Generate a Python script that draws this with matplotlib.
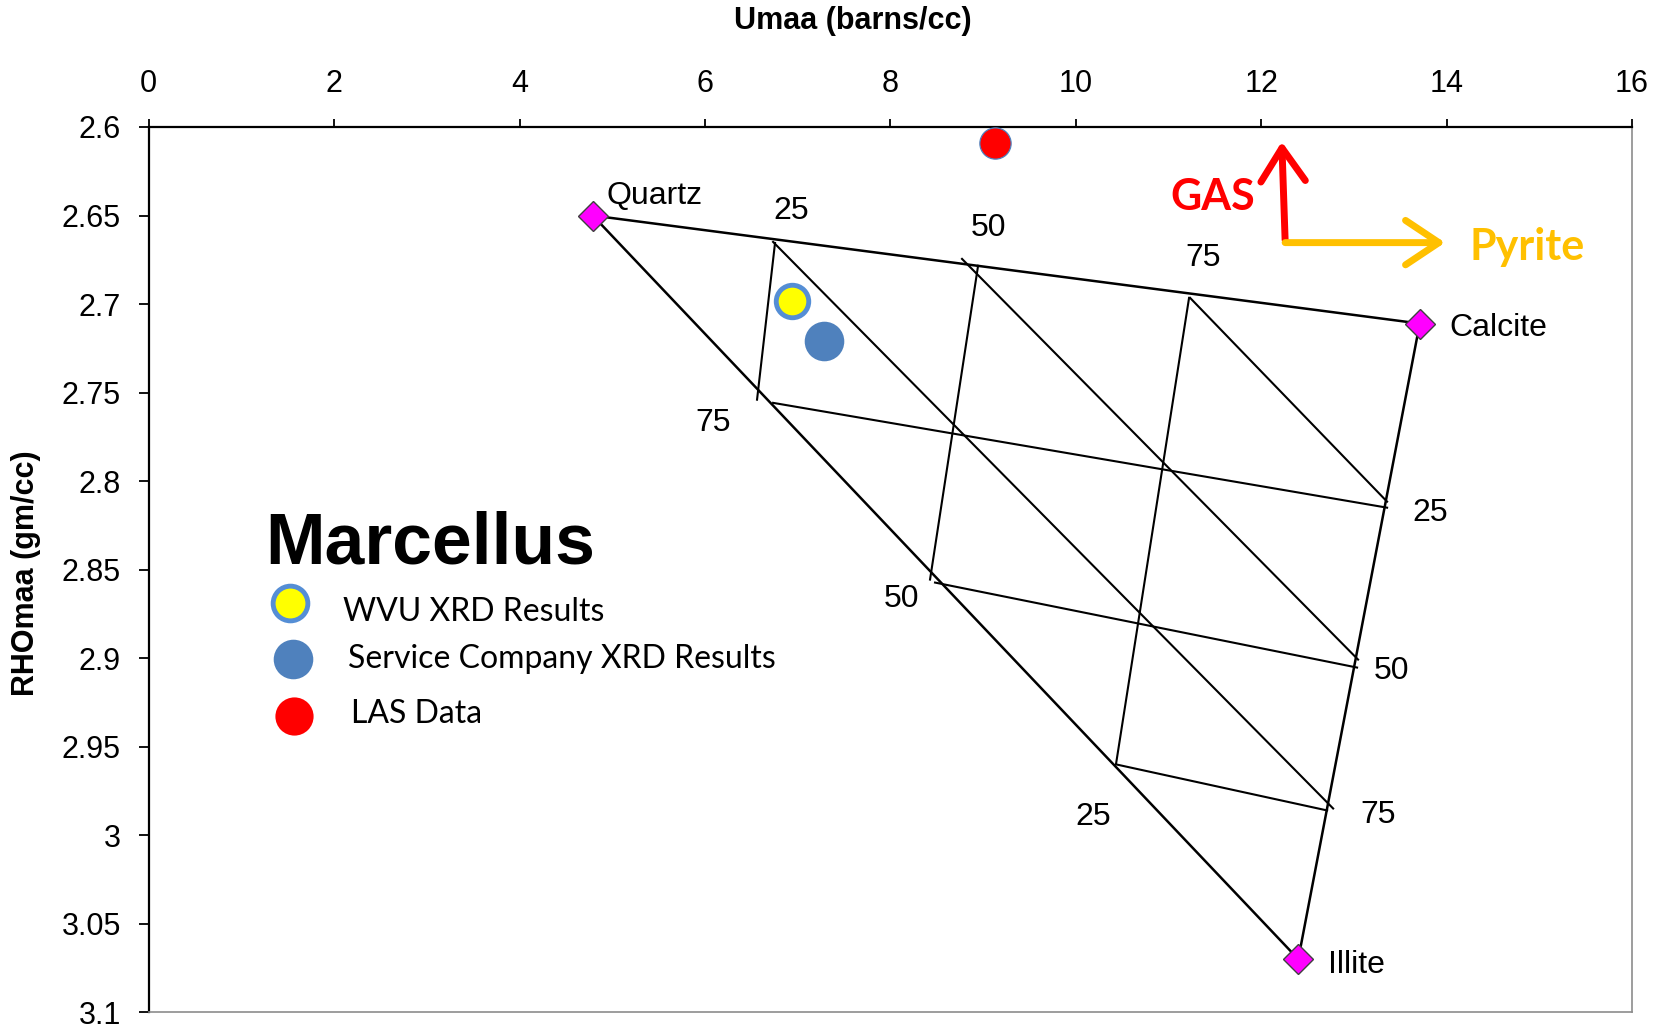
import matplotlib.pyplot as plt
from matplotlib.patches import FancyArrowPatch

# Mineral end points (Umaa barns/cc, RHOmaa gm/cc)
mineral_names = ["Quartz", "Calcite", "Illite"]
mineral_umaa = [4.79, 13.71, 12.40]
mineral_rhomaa = [2.650, 2.711, 3.070]

# Interior grid lines, start/end points of each family
steep_u0 = [6.756, 8.946, 11.222]
steep_r0 = [2.6655, 2.6784, 2.6965]
steep_u1 = [6.562, 8.428, 10.435]
steep_r1 = [2.754, 2.8556, 2.9595]

diag_u0 = [6.735, 8.773, 11.233]
diag_r0 = [2.6649, 2.6745, 2.6965]
diag_u1 = [12.776, 13.045, 13.358]
diag_r1 = [2.9849, 2.9008, 2.8116]

flat_u0 = [6.735, 8.482, 10.435]
flat_r0 = [2.7558, 2.8573, 2.960]
flat_u1 = [13.358, 13.034, 12.711]
flat_r1 = [2.815, 2.9053, 2.986]

# Percentage labels along the three sides
pct_labels = ["25", "50", "75", "25", "50", "75", "75", "50", "25"]
pct_u = [6.929, 9.057, 11.376, 13.822, 13.401, 13.264, 6.091, 8.123, 10.183]
pct_r = [2.6477, 2.6572, 2.6741, 2.818, 2.907, 2.9888, 2.7672, 2.8665, 2.9896]

# Sample points
wvu_umaa, wvu_rhomaa = 6.94, 2.698
svc_umaa, svc_rhomaa = 7.28, 2.7206
las_umaa, las_rhomaa = 9.13, 2.609

x_ticks = [0, 2, 4, 6, 8, 10, 12, 14, 16]
y_ticks = [2.6, 2.65, 2.7, 2.75, 2.8, 2.85, 2.9, 2.95, 3.0, 3.05, 3.1]
y_tick_labels = ["2.6", "2.65", "2.7", "2.75", "2.8", "2.85", "2.9", "2.95", "3", "3.05", "3.1"]

ARIAL = "Liberation Sans"
CALIBRI = "Lato"

fig = plt.figure(figsize=(16.65, 10.30), dpi=100)
ax = fig.add_axes([0.0893, 0.0172, 0.8909, 0.8595])
ax.set_xlim(0, 16)
ax.set_ylim(3.1, 2.6)

ax.xaxis.tick_top()
ax.set_xticks(x_ticks)
ax.set_xticklabels([str(v) for v in x_ticks], fontsize=22, family=ARIAL)
ax.set_yticks(y_ticks)
ax.set_yticklabels(y_tick_labels, fontsize=22, family=ARIAL)
ax.tick_params(axis="x", direction="out", length=6, width=1.3, pad=14)
ax.tick_params(axis="y", direction="out", length=7, width=1.3, pad=13)
for side in ("top", "left"):
    ax.spines[side].set_linewidth(1.6)
    ax.spines[side].set_color("black")
for side in ("right", "bottom"):
    ax.spines[side].set_linewidth(1.2)
    ax.spines[side].set_color("#8c8c8c")

fig.text(853 / 1665, 1 - 21 / 1030, "Umaa (barns/cc)", ha="center", va="center",
         fontsize=22, fontweight="bold", family=ARIAL)
fig.text(26.5 / 1665, 1 - 573 / 1030, "RHOmaa (gm/cc)", ha="center", va="center",
         rotation=90, fontsize=22, fontweight="bold", family=ARIAL)

# triangle outline
tri_u = [mineral_umaa[0], mineral_umaa[1], mineral_umaa[2], mineral_umaa[0]]
tri_r = [mineral_rhomaa[0], mineral_rhomaa[1], mineral_rhomaa[2], mineral_rhomaa[0]]
ax.plot(tri_u, tri_r, color="black", lw=1.8, zorder=2, clip_on=False)

for u0, r0, u1, r1 in [(steep_u0, steep_r0, steep_u1, steep_r1),
                       (diag_u0, diag_r0, diag_u1, diag_r1),
                       (flat_u0, flat_r0, flat_u1, flat_r1)]:
    for a, b, c, d in zip(u0, r0, u1, r1):
        ax.plot([a, c], [b, d], color="black", lw=1.5, zorder=2)

for lab, u, r in zip(pct_labels, pct_u, pct_r):
    ax.text(u, r, lab, ha="center", va="center", fontsize=23, family=ARIAL)

ax.plot(mineral_umaa, mineral_rhomaa, linestyle="none", marker="D", markersize=15.5,
        markerfacecolor="#ff00ff", markeredgecolor="#404040", markeredgewidth=1.0, zorder=4)
label_offsets = [(9.7, 14), (21, -3), (21.6, -4)]
for name, u, r, off in zip(mineral_names, mineral_umaa, mineral_rhomaa, label_offsets):
    ax.annotate(name, (u, r), xytext=off, textcoords="offset points",
                ha="left", va="center", fontsize=23, family=ARIAL)

# sample points
ax.plot(wvu_umaa, wvu_rhomaa, marker="o", markersize=23.4, markerfacecolor="#ffff00",
        markeredgecolor="#558ed5", markeredgewidth=3.5, zorder=5)
ax.plot(svc_umaa, svc_rhomaa, marker="o", markersize=28.5, markerfacecolor="#4f81bd",
        markeredgecolor="#4f81bd", markeredgewidth=0, zorder=5)
ax.plot(las_umaa, las_rhomaa, marker="o", markersize=22.5, markerfacecolor="#ff0000",
        markeredgecolor="#4f81bd", markeredgewidth=0.9, zorder=5)

# direction arrows
arrow_style = "->,head_length=1.2,head_width=0.8"
gas = FancyArrowPatch((12.258, 2.6638), (12.222, 2.6083), arrowstyle=arrow_style,
                      mutation_scale=20, color="#ff0000", lw=5.0, capstyle="round",
                      joinstyle="round", shrinkA=0, shrinkB=0, zorder=6)
ax.add_patch(gas)
pyr = FancyArrowPatch((12.258, 2.6653), (13.984, 2.6653), arrowstyle=arrow_style,
                      mutation_scale=20, color="#ffc000", lw=5.0, capstyle="round",
                      joinstyle="round", shrinkA=0, shrinkB=0, zorder=6)
ax.add_patch(pyr)
ax.text(11.48, 2.6395, "GAS", ha="center", va="center", fontsize=31,
        fontweight="bold", color="#ff0000", family=CALIBRI)
ax.text(14.865, 2.668, "Pyrite", ha="center", va="center", fontsize=31,
        fontweight="bold", color="#ffc000", family=CALIBRI)

# key
ax.text(0.0784, 0.5075, "Marcellus", transform=ax.transAxes, ha="left", va="baseline",
        fontsize=51.5, fontweight="bold", family=ARIAL)
ax.plot(0.0953, 0.4623, transform=ax.transAxes, marker="o", markersize=25, markerfacecolor="#ffff00",
        markeredgecolor="#558ed5", markeredgewidth=3.5, clip_on=False)
ax.plot(0.0973, 0.3985, transform=ax.transAxes, marker="o", markersize=28.5,
        markerfacecolor="#4f81bd", markeredgewidth=0, clip_on=False)
ax.plot(0.098, 0.3347, transform=ax.transAxes, marker="o", markersize=27.5,
        markerfacecolor="#ff0000", markeredgewidth=0, clip_on=False)
ax.text(0.131, 0.452, "WVU XRD Results", transform=ax.transAxes, ha="left", va="center",
        fontsize=23, family=CALIBRI)
ax.text(0.1344, 0.3995, "Service Company XRD Results", transform=ax.transAxes, ha="left",
        va="center", fontsize=23, family=CALIBRI)
ax.text(0.1367, 0.3367, "LAS Data", transform=ax.transAxes, ha="left", va="center",
        fontsize=23, family=CALIBRI)

fig.savefig("out.png", dpi=100)
